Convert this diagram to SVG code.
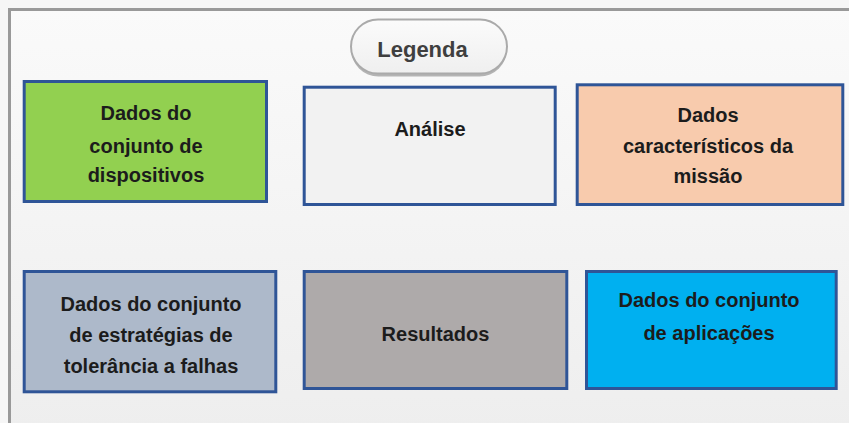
<svg xmlns="http://www.w3.org/2000/svg" width="849" height="423" viewBox="0 0 849 423">
<defs>
<linearGradient id="bg" x1="0" y1="0" x2="0" y2="1">
<stop offset="0" stop-color="#fafafa"/>
<stop offset="1" stop-color="#eeeeee"/>
</linearGradient>
<linearGradient id="pill" x1="0" y1="0" x2="0" y2="1">
<stop offset="0" stop-color="#fbfbfb"/>
<stop offset="1" stop-color="#efefef"/>
</linearGradient>
</defs>
<style>
.box{stroke:#2f5597;stroke-width:3}
.t{font-family:"Liberation Sans",Arial,sans-serif;font-weight:bold;font-size:20px;fill:#1c1c1c;text-anchor:middle}
.lg{font-family:"Liberation Sans",Arial,sans-serif;font-weight:bold;font-size:22px;fill:#3f3f3f;text-anchor:middle}
</style>
<rect x="0" y="0" width="849" height="423" fill="#f6f6f6"/>
<rect x="9.5" y="9.5" width="845" height="420" fill="url(#bg)" stroke="#999999" stroke-width="3"/>
<g id="legenda">
<rect x="351" y="21.5" width="156" height="55" rx="27.5" fill="#b4b4b4"/>
<rect x="351" y="19.5" width="156" height="54" rx="27" fill="url(#pill)" stroke="#aaaaaa" stroke-width="2"/>
<text class="lg" x="422.5" y="56.5">Legenda</text>
</g>
<g id="dispositivos">
<rect class="box" x="24.2" y="81.5" width="242.3" height="120" fill="#92d050"/>
<text class="t" x="146" y="120">Dados do</text>
<text class="t" x="146" y="153">conjunto de</text>
<text class="t" x="146" y="182">dispositivos</text>
</g>
<g id="analise">
<rect class="box" x="304.2" y="87.2" width="251" height="117.3" fill="#f2f2f2"/>
<text class="t" x="430" y="136">Análise</text>
</g>
<g id="missao">
<rect class="box" x="577.2" y="84.8" width="265.6" height="119.7" fill="#f8cbad"/>
<text class="t" x="708" y="122">Dados</text>
<text class="t" x="708" y="153">característicos da</text>
<text class="t" x="708" y="183">missão</text>
</g>
<g id="estrategias">
<rect class="box" x="24.2" y="271.5" width="251.6" height="120.3" fill="#adb9ca"/>
<text class="t" x="151" y="311">Dados do conjunto</text>
<text class="t" x="151" y="342">de estratégias de</text>
<text class="t" x="151" y="373">tolerância a falhas</text>
</g>
<g id="resultados">
<rect class="box" x="304.2" y="271.5" width="262.6" height="117" fill="#aeaaaa"/>
<text class="t" x="435.5" y="341">Resultados</text>
</g>
<g id="aplicacoes">
<rect class="box" x="586.5" y="271.5" width="249.7" height="117" fill="#00b0f0"/>
<text class="t" x="709" y="307">Dados do conjunto</text>
<text class="t" x="709" y="340">de aplicações</text>
</g>
<g id="connectors"></g>
</svg>
